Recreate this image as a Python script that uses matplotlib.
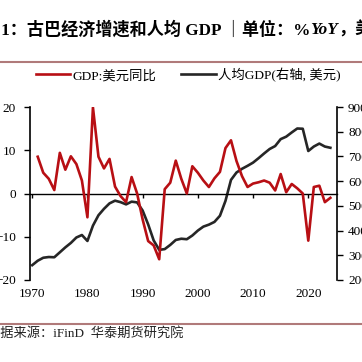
import numpy as np
import matplotlib.pyplot as plt
from matplotlib.lines import Line2D

plt.rcParams['font.family'] = ['Liberation Serif', 'Noto Sans CJK SC']

# GDP growth in USD terms (% yoy), 1971-2024
gdp_years = list(range(1971, 2025))
gdp_growth = [8.5, 4.8, 3.4, 0.8, 9.4, 5.5, 8.6, 6.8, 3.0, -5.5,
              19.9, 8.5, 5.8, 8.0, 1.6, -0.6, -2.0, 3.8, 0.0, -6.0,
              -11.0, -12.0, -15.2, 1.0, 2.5, 7.6, 3.4, 0.0, 6.3, 4.8,
              3.0, 1.5, 3.5, 5.0, 10.5, 12.3, 7.5, 4.0, 1.5, 2.3,
              2.6, 3.0, 2.5, 0.7, 4.5, 0.3, 2.2, 1.2, 0.0, -10.9,
              1.5, 1.8, -2.0, -1.0]

# GDP per capita (USD, right axis), 1970-2024
pc_years = list(range(1970, 2025))
gdp_per_capita = [260, 278, 290, 293, 292, 312, 332, 350, 372, 382,
                  358, 420, 462, 488, 510, 521, 515, 506, 517, 514,
                  481, 425, 360, 322, 325, 342, 362, 367, 365, 380,
                  400, 416, 424, 435, 460, 520, 605, 635, 650, 662,
                  675, 693, 712, 730, 742, 770, 780, 797, 813, 812,
                  722, 740, 752, 740, 735]

x_ticks = [1970, 1980, 1990, 2000, 2010, 2020]
left_ticks = [-20, -10, 0, 10, 20]
right_ticks = [200, 300, 400, 500, 600, 700, 800, 900]

RED = '#b80f14'
BLACK = '#262626'

fig = plt.figure(figsize=(3.62, 3.62), dpi=100)
ax = fig.add_axes([30/362, 1 - 280/362, 307/362, 173/362])
ax2 = ax.twinx()

ax.plot(gdp_years, gdp_growth, color=RED, lw=1.9, zorder=3)
ax2.plot(pc_years, gdp_per_capita, color=BLACK, lw=1.9)
ax.set_zorder(ax2.get_zorder() + 1)
ax.patch.set_visible(False)

ax.set_xlim(1969.6, 2025.2)
ax.set_ylim(-20, 20)
ax2.set_ylim(200, 900)

# x axis crosses at zero, labels at bottom
ax.spines['bottom'].set_position(('data', 0))
ax.spines['bottom'].set_linewidth(1.0)
ax.set_xticks(x_ticks)
ax.tick_params(axis='x', direction='out', length=3, width=1.0,
               labelbottom=False)
for yr in x_ticks:
    ax.text(yr, -21.9, str(yr), ha='center', va='top', fontsize=9.5)

for a in (ax, ax2):
    a.spines['top'].set_visible(False)
ax.spines['right'].set_visible(False)
ax2.spines['left'].set_visible(False)
ax2.spines['bottom'].set_visible(False)
ax.spines['left'].set_linewidth(1.2)
ax2.spines['right'].set_linewidth(1.2)

ax.set_yticks(left_ticks)
ax.tick_params(axis='y', direction='out', length=4, width=1.0,
               labelsize=9.5, pad=6)
ax2.set_yticks(right_ticks)
ax2.tick_params(axis='y', direction='out', length=4, width=1.0,
                labelsize=9.5, pad=4)

# legend
handles = [Line2D([], [], color=RED, lw=1.9),
           Line2D([], [], color=BLACK, lw=1.9)]
fig.legend(handles, ['GDP:美元同比', '人均GDP(右轴, 美元)'],
           loc='center', bbox_to_anchor=(0.52, 1 - 75/362), ncol=2,
           frameon=False, fontsize=9.6, handlelength=2.6, handletextpad=0.2,
           columnspacing=1.8)

# title pieces
t1 = fig.text(-0.045, 1 - 30/362, '图1：古巴经济增速和人均 GDP ｜单位：%',
              fontsize=12.3, fontweight='bold', va='center')
t2 = ax.annotate('YoY', xy=(1, 0.5), xycoords=t1, va='center', ha='left',
                 fontsize=12.3, fontweight='bold', style='italic',
                 annotation_clip=False)
ax.annotate('，美元', xy=(1, 0.5), xycoords=t2, va='center', ha='left',
            fontsize=12.3, fontweight='bold', annotation_clip=False)

# rules and source
fig.add_artist(Line2D([0, 1], [1 - 62/362, 1 - 62/362], color='#b07a7a',
                      lw=1.5, transform=fig.transFigure))
fig.add_artist(Line2D([0, 1], [1 - 324/362, 1 - 324/362], color='#b07a7a',
                      lw=1.5, transform=fig.transFigure))
fig.text(-0.035, 1 - 334/362, '数据来源：iFinD  华泰期货研究院', fontsize=9.5,
         va='center', color='#222222')

fig.savefig('out.png', dpi=100)
